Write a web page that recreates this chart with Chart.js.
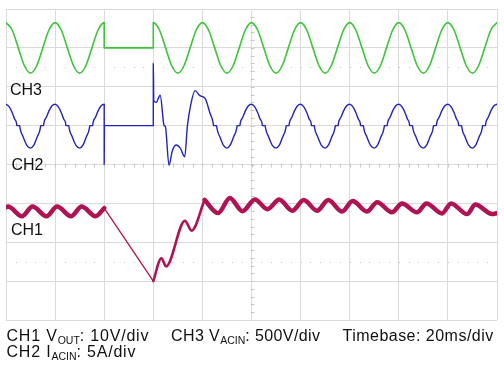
<!DOCTYPE html>
<html>
<head>
<meta charset="utf-8">
<script src="https://cdn.jsdelivr.net/npm/chart.js@4.4.1/dist/chart.umd.min.js"></script>
<style>
  html, body { margin: 0; padding: 0; background: #fff; }
  #wrap { position: relative; width: 504px; height: 378px; overflow: hidden; font-family: "Liberation Sans", Arial, Helvetica, sans-serif; color: #111; }
  #scope { position: absolute; left: 0; top: 0; }
  .lbl { position: absolute; font-size: 16px; line-height: 16px; white-space: nowrap; }
  .cap { position: absolute; font-size: 16px; line-height: 16px; white-space: nowrap; letter-spacing: 0.5px; }
  .cap sub { font-size: 10.5px; vertical-align: -3px; line-height: 0; letter-spacing: 0; }
</style>
</head>
<body>
<div id="wrap">
  <canvas id="scope" width="504" height="378"></canvas>
  <div class="lbl" style="left:10px;top:81.5px">CH3</div>
  <div class="lbl" style="left:11.5px;top:156.5px">CH2</div>
  <div class="lbl" style="left:11px;top:221.5px">CH1</div>
  <div class="cap" style="left:6.5px;top:327.5px;letter-spacing:0.8px">CH1 V<sub>OUT</sub>: 10V/div</div>
  <div class="cap" style="left:171px;top:327.5px;letter-spacing:0.4px">CH3 V<sub>ACIN</sub>: 500V/div</div>
  <div class="cap" style="left:342.5px;top:327.5px;letter-spacing:0.48px">Timebase: 20ms/div</div>
  <div class="cap" style="left:6.5px;top:344.2px;letter-spacing:0.8px">CH2 I<sub>ACIN</sub>: 5A/div</div>
</div>
<script>
// timebase 20 ms/div, 10 divisions; all times in ms
const timeTicks = [0, 20, 40, 60, 80, 100, 120, 140, 160, 180, 200];

// CH3 V_ACIN (V), 500 V/div, trace zero 3 div above centre
const ch3Time = [
  0, 2.5, 5, 7.5, 10, 12.5, 15, 17.5, 20, 22.5, 25, 27.5, 30, 32.5, 35, 37.5,
  40, 40, 60, 60, 62.5, 65, 67.5, 70, 72.5, 75, 77.5,
  80, 82.5, 85, 87.5, 90, 92.5, 95, 97.5,
  100, 102.5, 105, 107.5, 110, 112.5, 115, 117.5,
  120, 122.5, 125, 127.5, 130, 132.5, 135, 137.5,
  140, 142.5, 145, 147.5, 150, 152.5, 155, 157.5,
  160, 162.5, 165, 167.5, 170, 172.5, 175, 177.5,
  180, 182.5, 185, 187.5, 190, 192.5, 195, 197.5, 200
];
const ch3Volts = [
  325, 230, 0, -230, -325, -230, 0, 230, 325, 230, 0, -230, -325, -230, 0, 230,
  325, 0, 0, 325, 230, 0, -230, -325, -230, 0, 230,
  325, 230, 0, -230, -325, -230, 0, 230,
  325, 230, 0, -230, -325, -230, 0, 230,
  325, 230, 0, -230, -325, -230, 0, 230,
  325, 230, 0, -230, -325, -230, 0, 230,
  325, 230, 0, -230, -325, -230, 0, 230,
  325, 230, 0, -230, -325, -230, 0, 230, 325
];

// CH2 I_ACIN (A), 5 A/div, trace zero 1 div above centre
const ch2Time = [
  0, 1.25, 2.5, 3.5, 4.3, 4.4, 5.6, 5.7, 7.0, 8.5, 10, 11.25, 12.7, 14.0, 14.1, 15.3, 15.4, 16.5, 17.5, 18.75,
  20, 21.25, 22.5, 23.5, 24.3, 24.4, 25.6, 25.7, 27.0, 28.5, 30, 31.25, 32.7, 34.0, 34.1, 35.3, 35.4, 36.5, 37.5, 38.75,
  40, 40, 40.1, 60, 60, 60.2, 61.2, 62.8, 64.2, 64.4, 64.9, 66.4, 67.8, 69.4, 71.0, 72.8,
  73.9, 75.2, 77.0, 79.0, 81.1, 83.1, 84.4, 84.5, 85.8, 85.9, 87.2, 88.6, 90, 91.25,
  92.7, 94.0, 94.1, 95.3, 95.4, 96.5, 97.5, 98.75,
  100, 101.25, 102.5, 103.5, 104.3, 104.4, 105.6, 105.7, 107.0, 108.5, 110, 111.25, 112.7, 114.0, 114.1, 115.3, 115.4, 116.5, 117.5, 118.75,
  120, 121.25, 122.5, 123.5, 124.3, 124.4, 125.6, 125.7, 127.0, 128.5, 130, 131.25, 132.7, 134.0, 134.1, 135.3, 135.4, 136.5, 137.5, 138.75,
  140, 141.25, 142.5, 143.5, 144.3, 144.4, 145.6, 145.7, 147.0, 148.5, 150, 151.25, 152.7, 154.0, 154.1, 155.3, 155.4, 156.5, 157.5, 158.75,
  160, 161.25, 162.5, 163.5, 164.3, 164.4, 165.6, 165.7, 167.0, 168.5, 170, 171.25, 172.7, 174.0, 174.1, 175.3, 175.4, 176.5, 177.5, 178.75,
  180, 181.25, 182.5, 183.5, 184.3, 184.4, 185.6, 185.7, 187.0, 188.5, 190, 191.25, 192.7, 194.0, 194.1, 195.3, 195.4, 196.5, 197.5, 198.75,
  200
];
const ch2Amps = [
  2.75, 2.45, 1.7, 0.85, 0.3, 0, 0, -0.3, -1.45, -2.55, -2.9, -2.55, -1.45, -0.3, 0, 0, 0.3, 1.1, 1.9, 2.55,
  2.75, 2.45, 1.7, 0.85, 0.3, 0, 0, -0.3, -1.45, -2.55, -2.9, -2.55, -1.45, -0.3, 0, 0, 0.3, 1.1, 1.9, 2.55,
  2.75, -5.0, 0, 0, 8.0, 3.2, 3.0, 3.9, 0.3, 0, -0.1, -5.1, -3.2, -2.5, -2.9, -4.0,
  0, 2.6, 4.5, 3.85, 3.5, 1.6, 0.3, 0, 0, -0.3, -1.5, -2.55, -2.9, -2.55,
  -1.45, -0.3, 0, 0, 0.3, 1.1, 1.9, 2.55,
  2.75, 2.45, 1.7, 0.85, 0.3, 0, 0, -0.3, -1.45, -2.55, -2.9, -2.55, -1.45, -0.3, 0, 0, 0.3, 1.1, 1.9, 2.55,
  2.75, 2.45, 1.7, 0.85, 0.3, 0, 0, -0.3, -1.45, -2.55, -2.9, -2.55, -1.45, -0.3, 0, 0, 0.3, 1.1, 1.9, 2.55,
  2.75, 2.45, 1.7, 0.85, 0.3, 0, 0, -0.3, -1.45, -2.55, -2.9, -2.55, -1.45, -0.3, 0, 0, 0.3, 1.1, 1.9, 2.55,
  2.75, 2.45, 1.7, 0.85, 0.3, 0, 0, -0.3, -1.45, -2.55, -2.9, -2.55, -1.45, -0.3, 0, 0, 0.3, 1.1, 1.9, 2.55,
  2.75, 2.45, 1.7, 0.85, 0.3, 0, 0, -0.3, -1.45, -2.55, -2.9, -2.55, -1.45, -0.3, 0, 0, 0.3, 1.1, 1.9, 2.55,
  2.75
];

// CH1 V_OUT (V), 10 V/div, trace zero at bottom of screen
const ch1PreTime = [0, 0.8, 6.5, 10.8, 16.5, 20.8, 26.5, 30.8, 36.5, 40];
const ch1PreVolts = [29.0, 29.2, 26.7, 29.2, 26.7, 29.2, 26.7, 29.2, 26.7, 28.8];
const ch1DropTime = [40, 60];
const ch1DropVolts = [28.8, 10.0];
const ch1RiseTime = [60, 63.3, 65.2, 72.9, 75.6, 80.9];
const ch1RiseVolts = [10.0, 15.9, 13.8, 25.5, 23.0, 30.9];
const ch1RunTime = [
  80.9, 86.4, 91.2, 96.3, 101.4, 106.5, 111.3, 116.6, 121.3, 126.7, 131.3, 136.9,
  141.2, 147.0, 151.2, 157.2, 161.3, 167.4, 171.3, 177.6, 181.3, 187.8, 191.2, 198.0, 200
];
const ch1RunVolts = [
  30.9, 27.5, 31.4, 28.0, 31.0, 28.5, 31.0, 28.1, 30.85, 28.1, 30.85, 27.9,
  30.6, 27.9, 30.3, 27.7, 30.0, 27.7, 30.0, 27.4, 30.0, 27.25, 29.7, 27.25, 27.5
];

const GREEN = '#3ec43a';
const BLUE = '#2323b8';
const CRIMSON = '#b01352';
const GRID = '#dadada';

function _pts(xs, ys) {
  return xs.map((x, i) => ({ x, y: ys[i] }));
}

function _trace(xs, ys, axis, color, width) {
  return {
    data: _pts(xs, ys),
    yAxisID: axis,
    borderColor: color,
    borderWidth: width,
    pointRadius: 0,
    fill: false,
    cubicInterpolationMode: 'monotone',
    borderJoinStyle: 'round',
    borderCapStyle: 'round'
  };
}

// scope graticule extras: minor ticks on the centre lines, dotted rows at +/-2.5 div
const graticule = {
  id: 'graticule',
  beforeDatasetsDraw(chart) {
    const { ctx, scales } = chart;
    const x = scales.x;
    const y = scales.y;
    ctx.save();
    ctx.strokeStyle = '#c8c8c8';
    ctx.lineWidth = 1;
    const xc = Math.round(x.getPixelForValue(100)) + 0.5;
    const yc = Math.round(y.getPixelForValue(0)) + 0.5;
    ctx.beginPath();
    for (let t = 4; t < 200; t += 4) {
      const px = Math.round(x.getPixelForValue(t)) + 0.5;
      ctx.moveTo(px, yc - 2);
      ctx.lineTo(px, yc + 2);
    }
    for (let k = -19; k < 20; k++) {
      const py = Math.round(y.getPixelForValue(k * 0.2)) + 0.5;
      ctx.moveTo(xc - 2, py);
      ctx.lineTo(xc + 2, py);
    }
    ctx.stroke();
    ctx.fillStyle = '#c8c8c8';
    [-2.5, 2.5].forEach(d => {
      const py = Math.round(y.getPixelForValue(d));
      for (let t = 4; t < 200; t += 4) {
        ctx.fillRect(Math.round(x.getPixelForValue(t)), py, 1, 1);
      }
    });
    ctx.restore();
  }
};

const hidden = (min, max) => ({ type: 'linear', display: false, min, max });

new Chart(document.getElementById('scope').getContext('2d'), {
  type: 'line',
  data: {
    datasets: [
      _trace(ch3Time, ch3Volts, 'yCh3', GREEN, 1.6),
      _trace(ch2Time, ch2Amps, 'yCh2', BLUE, 1.4),
      _trace(ch1PreTime, ch1PreVolts, 'yCh1', CRIMSON, 4.5),
      _trace(ch1DropTime, ch1DropVolts, 'yCh1', CRIMSON, 1.3),
      _trace(ch1RiseTime, ch1RiseVolts, 'yCh1', CRIMSON, 2.6),
      _trace(ch1RunTime, ch1RunVolts, 'yCh1', CRIMSON, 4.5)
    ]
  },
  options: {
    responsive: false,
    animation: false,
    devicePixelRatio: 1,
    layout: { padding: { left: 6, right: 7, top: 9, bottom: 58 } },
    plugins: { legend: { display: false }, tooltip: { enabled: false } },
    scales: {
      x: {
        type: 'linear', min: 0, max: 200,
        afterBuildTicks: s => { s.ticks = timeTicks.map(v => ({ value: v })); },
        ticks: { display: false },
        grid: { color: GRID, drawTicks: false, tickLength: 0 },
        border: { display: false }
      },
      y: {
        type: 'linear', min: -4, max: 4,
        ticks: { display: false, stepSize: 1 },
        grid: { color: GRID, drawTicks: false, tickLength: 0 },
        border: { display: false }
      },
      yCh3: hidden(-3500, 500),
      yCh2: hidden(-25, 15),
      yCh1: hidden(0, 80)
    }
  },
  plugins: [graticule]
});
</script>
</body>
</html>
